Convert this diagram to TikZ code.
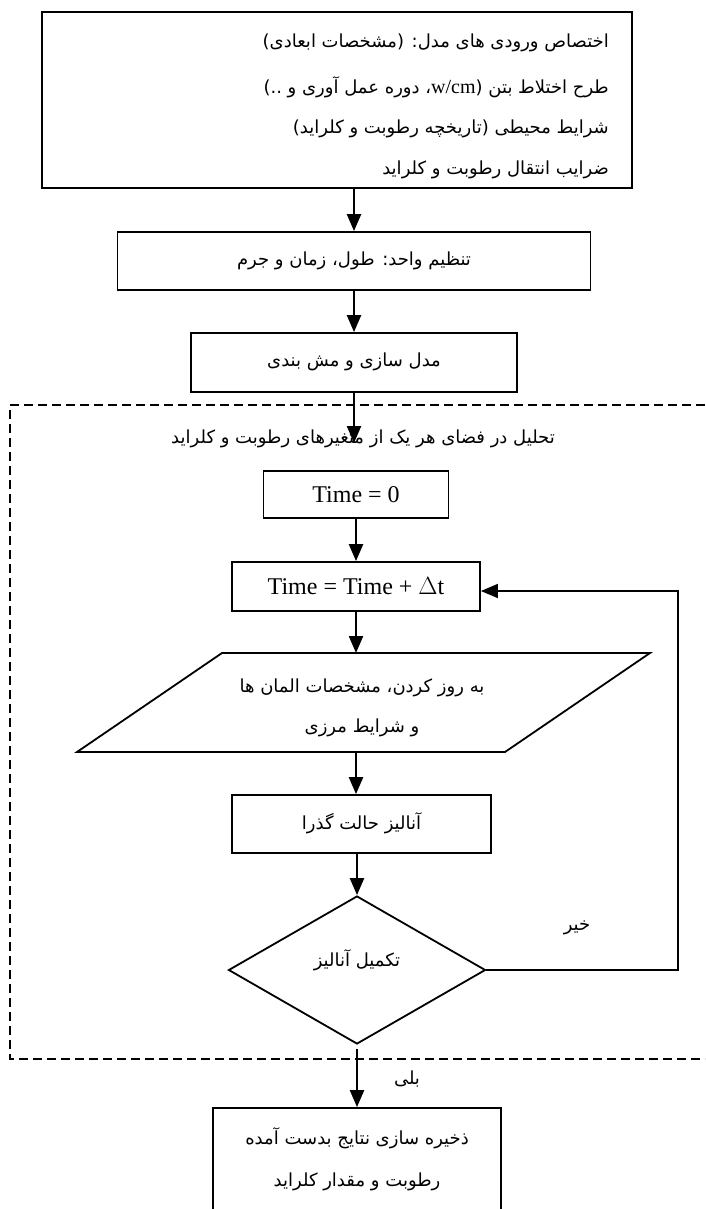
\documentclass[tikz,border=0pt]{standalone}
\usepackage{fontspec}
\setmainfont{Liberation Serif}
\newfontfamily\fa[Script=Arabic]{DejaVu Sans}
\TeXXeTstate=1
\usetikzlibrary{shapes.geometric,arrows.meta}
\begin{document}
\begin{tikzpicture}[x=1pt,y=-1pt,
  box/.style={draw,line width=1.8pt,inner sep=0pt},
  fatext/.style={font=\fa\fontsize{18}{22}\selectfont,inner sep=0pt},
  lattext/.style={font=\fontsize{24}{28}\selectfont,inner sep=0pt},
  arr/.style={line width=2.3pt,-{Triangle[length=17pt,width=14pt]}},
  looparr/.style={line width=1.6pt,-{Triangle[length=17pt,width=14pt]}},
  dashbox/.style={line width=1.6pt,dash pattern=on 9pt off 5pt}]
\useasboundingbox (0,0) rectangle (705,1209);
% input box
\node[box,minimum width=590pt,minimum height=176pt] (inp) at (337,100) {};
\node[fatext,anchor=east] (l1) at (609,43) {\beginR اختصاص ورودی های مدل: (مشخصات ابعادی)\endR};
\node[fatext,anchor=east] (l2) at (609,87) {\beginR طرح اختلاط بتن (\beginL{\rmfamily\fontsize{20}{22}\selectfont w/cm}\endL، دوره عمل آوری و ..)\endR};
\node[fatext,anchor=east] (l3) at (609,129) {\beginR شرایط محیطی (تاریخچه رطوبت و کلراید)\endR};
\node[fatext,anchor=east] (l4) at (609,170) {\beginR ضرایب انتقال رطوبت و کلراید\endR};
% unit box
\node[box,minimum width=473pt,minimum height=58pt] (unit) at (354,261) {};
\node[fatext] (unitt) at (354,261) {\beginR تنظیم واحد: طول، زمان و جرم\endR};
% mesh box
\node[box,minimum width=326pt,minimum height=59pt] (mesh) at (354,362.5) {};
\node[fatext] (mesht) at (354,362) {\beginR مدل سازی و مش بندی\endR};
% dashed region
\draw[dashbox] (705,405) -- (10,405) -- (10,1059) -- (705,1059);
\node[fatext] (title) at (363,439) {\beginR تحلیل در فضای هر یک از متغیرهای رطوبت و کلراید\endR};
\coordinate (tarrow) at (354,443);
% time boxes
\node[box,lattext,minimum width=185pt,minimum height=47pt] (t0) at (356,494.5) {Time = 0};
\node[box,lattext,minimum width=248pt,minimum height=49pt] (tdt) at (356,586.5) {Time = Time + $\Delta$t};
% parallelogram
\draw[line width=1.8pt] (222,653) -- (650,653) -- (505,752) -- (77,752) -- cycle;
\coordinate (ptop) at (356,653);
\coordinate (pbot) at (356,752);
\node[fatext] (u1) at (362,688) {\beginR به روز کردن، مشخصات المان ها\endR};
\node[fatext] (u2) at (362,728) {\beginR و شرایط مرزی\endR};
% analysis box
\node[box,minimum width=259pt,minimum height=58pt] (ana) at (361.5,824) {};
\node[fatext] (anat) at (361.5,823) {\beginR آنالیز حالت گذرا\endR};
% decision
\node[draw,line width=1.8pt,diamond,aspect=1.736,inner sep=0pt,minimum width=257pt,minimum height=148pt] (dia) at (357,970) {};
\node[fatext] (diat) at (357,960) {\beginR تکمیل آنالیز\endR};
\node[fatext] (no) at (577,928) {\beginR خیر\endR};
\coordinate (lp) at (678,591);
% result box
\node[box,minimum width=288pt,minimum height=152pt] (res) at (357,1184) {};
\node[fatext] (r1) at (357,1138) {\beginR ذخیره سازی نتایج بدست آمده\endR};
\node[fatext] (r2) at (357,1182) {\beginR رطوبت و مقدار کلراید\endR};
\node[fatext] (yes) at (407,1079) {\beginR بلی\endR};
% connectors
\draw[arr] (inp.south -| unit.north) -- (unit.north);
\draw[arr] (unit.south) -- (mesh.north);
\draw[arr] (mesh.south) -- (tarrow);
\draw[arr] (t0.south) -- (tdt.north);
\draw[arr] (tdt.south) -- (ptop);
\draw[arr] (pbot) -- (pbot |- ana.north);
\draw[arr] (dia.north |- ana.south) -- (dia.north);
\draw[looparr] (dia.east) -| (lp) -- (tdt.east |- lp);
\draw[arr,shorten <=4pt] (dia.south) -- (res.north);
\end{tikzpicture}
\end{document}
